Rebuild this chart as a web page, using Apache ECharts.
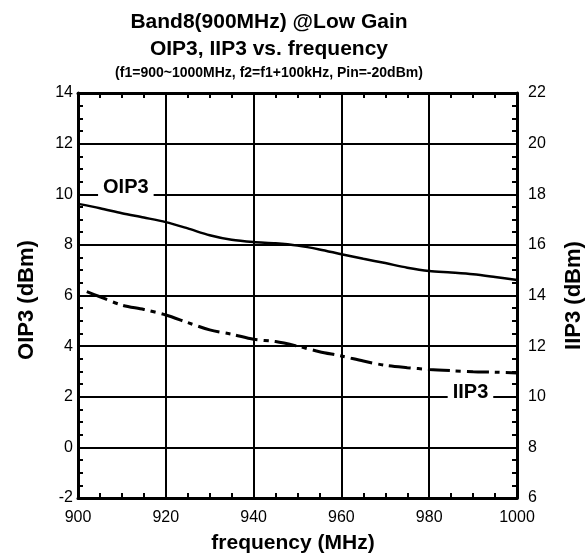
<!DOCTYPE html>
<html>
<head>
<meta charset="utf-8">
<script src="https://cdn.jsdelivr.net/npm/echarts@6/dist/echarts.min.js"></script>
<style>
  html, body { margin: 0; padding: 0; background: #fff; }
  #chart { width: 587px; height: 559px; }
</style>
</head>
<body>
<div id="chart"></div>
<script>
// Output third-order intercept, Band8 low-gain mode
const freqMHz = [900, 905, 910, 915, 920, 925, 930, 935, 940, 945, 950,
                 955, 960, 965, 970, 975, 980, 985, 990, 995, 1000];
const oip3dBm = [9.62, 9.45, 9.25, 9.08, 8.90, 8.65, 8.38, 8.20, 8.11, 8.06, 7.97,
                 7.82, 7.63, 7.45, 7.28, 7.10, 6.97, 6.91, 6.84, 6.73, 6.61];

// Input third-order intercept (right axis)
const iip3FreqMHz = [902, 905, 910, 915, 920, 925, 930, 935, 940, 945, 950,
                     955, 960, 965, 970, 975, 980, 985, 990, 995, 1000];
const iip3dBm = [14.15, 13.95, 13.62, 13.45, 13.23, 12.93, 12.64, 12.47, 12.27, 12.18, 12.00,
                 11.78, 11.61, 11.41, 11.24, 11.15, 11.08, 11.03, 10.99, 10.97, 10.94];

// Axis ranges and tick steps
const freqRange = [900, 1000, 20];
const oip3Range = [-2, 14, 2];
const iip3Range = [6, 22, 2];

// Curve tags: [label, frequency, value on its own axis]
const oip3Tag = ['OIP3', 910.9, 10];
const iip3Tag = ['IIP3', 989.4, 10];

const titleLines = [
  'Band8(900MHz) @Low Gain',
  'OIP3, IIP3 vs. frequency',
  '(f1=900~1000MHz, f2=f1+100kHz, Pin=-20dBm)'
];

const FONT = '"Liberation Sans", Arial, Helvetica, sans-serif';
const INK = '#000';

const chart = echarts.init(document.getElementById('chart'), null, { renderer: 'canvas' });

function tickAxisCommon() {
  return {
    axisLine: { show: true, onZero: false, lineStyle: { color: INK, width: 3 } },
    axisTick: { show: true, inside: true, length: 5, lineStyle: { color: INK, width: 2 } },
    minorTick: { show: true, splitNumber: 4, length: 5, lineStyle: { color: INK, width: 2 } },
    minorSplitLine: { show: false }
  };
}

function tagPoint(tag, dy) {
  return {
    symbol: 'rect',
    symbolSize: 0,
    silent: true,
    data: [{ coord: [tag[1], tag[2]] }],
    label: {
      show: true,
      position: 'inside',
      offset: [0, dy],
      formatter: tag[0],
      color: INK,
      fontFamily: FONT,
      fontWeight: 'bold',
      fontSize: 20,
      lineHeight: 20,
      backgroundColor: '#fff',
      padding: [1, 5, 1, 5]
    }
  };
}

const plainNumber = (v) => String(v);

const option = {
  backgroundColor: '#fff',
  animation: false,
  textStyle: { fontFamily: FONT, color: INK },
  graphic: [
    { type: 'text', silent: true, style: { text: titleLines[0], x: 269, y: 22.5, align: 'center', verticalAlign: 'middle', fill: INK, font: 'bold 21px ' + FONT } },
    { type: 'text', silent: true, style: { text: titleLines[1], x: 269, y: 49.2, align: 'center', verticalAlign: 'middle', fill: INK, font: 'bold 21px ' + FONT } },
    { type: 'text', silent: true, style: { text: titleLines[2], x: 269, y: 73.3, align: 'center', verticalAlign: 'middle', fill: INK, font: 'bold 14px ' + FONT } }
  ],
  grid: { left: 78, right: 70, top: 93, bottom: 61, containLabel: false, outerBoundsMode: 'none' },
  xAxis: [
    Object.assign({
      type: 'value',
      position: 'bottom',
      min: freqRange[0], max: freqRange[1], interval: freqRange[2],
      name: 'frequency (MHz)',
      nameLocation: 'middle',
      nameGap: 35,
      nameTextStyle: { fontFamily: FONT, fontWeight: 'bold', fontSize: 21, color: INK, padding: [0, 9, 0, 0] },
      axisLabel: { color: INK, fontFamily: FONT, fontSize: 16, margin: 12, formatter: plainNumber },
      splitLine: { show: true, lineStyle: { color: INK, width: 2 } }
    }, tickAxisCommon()),
    Object.assign({
      type: 'value',
      position: 'top',
      min: freqRange[0], max: freqRange[1], interval: freqRange[2],
      axisLabel: { show: false },
      splitLine: { show: false }
    }, tickAxisCommon())
  ],
  yAxis: [
    Object.assign({
      type: 'value',
      position: 'left',
      min: oip3Range[0], max: oip3Range[1], interval: oip3Range[2],
      name: 'OIP3 (dBm)',
      nameLocation: 'middle',
      nameRotate: 90,
      nameGap: 40,
      nameTextStyle: { fontFamily: FONT, fontWeight: 'bold', fontSize: 22, color: INK, padding: [0, 9, 0, 0] },
      axisLabel: { color: INK, fontFamily: FONT, fontSize: 16, margin: 5, formatter: plainNumber },
      splitLine: { show: true, lineStyle: { color: INK, width: 2 } }
    }, tickAxisCommon()),
    Object.assign({
      type: 'value',
      position: 'right',
      min: iip3Range[0], max: iip3Range[1], interval: iip3Range[2],
      name: 'IIP3 (dBm)',
      nameLocation: 'middle',
      nameRotate: 90,
      nameGap: 46,
      nameTextStyle: { fontFamily: FONT, fontWeight: 'bold', fontSize: 22, color: INK },
      axisLabel: { color: INK, fontFamily: FONT, fontSize: 16, margin: 11, formatter: plainNumber },
      splitLine: { show: false }
    }, tickAxisCommon())
  ],
  series: [
    {
      name: 'OIP3',
      type: 'line',
      xAxisIndex: 0,
      yAxisIndex: 0,
      data: freqMHz.map((f, i) => [f, oip3dBm[i]]),
      smooth: 0.3,
      showSymbol: false,
      symbol: 'none',
      lineStyle: { color: INK, width: 2.5 },
      z: 3,
      markPoint: tagPoint(oip3Tag, -7)
    },
    {
      name: 'IIP3',
      type: 'line',
      xAxisIndex: 0,
      yAxisIndex: 1,
      data: iip3FreqMHz.map((f, i) => [f, iip3dBm[i]]),
      smooth: 0.3,
      showSymbol: false,
      symbol: 'none',
      lineStyle: { color: INK, width: 3, type: [22, 6, 5, 6] },
      z: 3,
      markPoint: tagPoint(iip3Tag, -4)
    }
  ]
};

chart.setOption(option);
</script>
</body>
</html>
